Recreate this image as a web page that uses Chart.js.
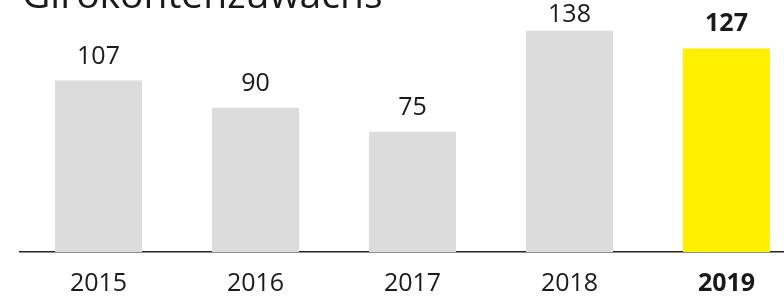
<!DOCTYPE html>
<html>
<head>
<meta charset="utf-8">
<script src="https://cdn.jsdelivr.net/npm/chart.js@4/dist/chart.umd.min.js"></script>
<style>
  html, body { margin: 0; padding: 0; background: #fff; overflow: hidden; }
  #wrap { position: absolute; left: 0; top: 0; width: 812px; height: 316px; }
</style>
</head>
<body>
<div id="wrap"><canvas id="chart"></canvas></div>
<script>
const title = 'Girokontenzuwachs';
const years = ['2015', '2016', '2017', '2018', '2019'];
const values = [107, 90, 75, 138, 127];
const highlight = '2019';

const fontFamily = '"Open Sans", sans-serif';
const textColor = '#1a1a1a';

// title sits partly above the top edge, like in the source image
const titlePlugin = {
  id: 'titleText',
  afterDraw(chart) {
    const ctx = chart.ctx;
    ctx.save();
    ctx.font = `39px ${fontFamily}`;
    ctx.fillStyle = textColor;
    ctx.textAlign = 'left';
    ctx.textBaseline = 'alphabetic';
    ctx.fillText(title, 22, 8);
    ctx.restore();
  }
};

const valueLabels = {
  id: 'valueLabels',
  afterDatasetsDraw(chart) {
    const ctx = chart.ctx;
    const meta = chart.getDatasetMeta(0);
    ctx.save();
    ctx.fillStyle = textColor;
    ctx.textAlign = 'center';
    ctx.textBaseline = 'alphabetic';
    meta.data.forEach((bar, i) => {
      const bold = years[i] === highlight;
      ctx.font = `${bold ? 'bold ' : ''}25px ${fontFamily}`;
      // keep the label inside the picture (clamped like the original)
      const y = Math.max(bar.y - 17, 22);
      ctx.fillText(String(values[i]), bar.x, y);
    });
    ctx.restore();
  }
};

const ctx = document.getElementById('chart').getContext('2d');
new Chart(ctx, {
  type: 'bar',
  data: {
    labels: years,
    datasets: [{
      data: values,
      backgroundColor: years.map(y => y === highlight ? '#fff000' : '#dcdcdc'),
      barPercentage: 0.554,
      categoryPercentage: 1
    }]
  },
  options: {
    responsive: true,
    maintainAspectRatio: false,
    animation: false,
    layout: { padding: { left: 20, right: 7, top: 10, bottom: 0 } },
    plugins: {
      legend: { display: false },
      tooltip: { enabled: false }
    },
    scales: {
      x: {
        grid: { display: false, drawTicks: false },
        border: { display: true, color: '#222', width: 1.5 },
        ticks: {
          color: textColor,
          padding: 17,
          font: c => ({
            family: fontFamily,
            size: 25,
            weight: years[c.index] === highlight ? 'bold' : 'normal'
          })
        }
      },
      y: {
        display: false,
        min: 0,
        max: 151
      }
    }
  },
  plugins: [titlePlugin, valueLabels]
});
</script>
</body>
</html>
